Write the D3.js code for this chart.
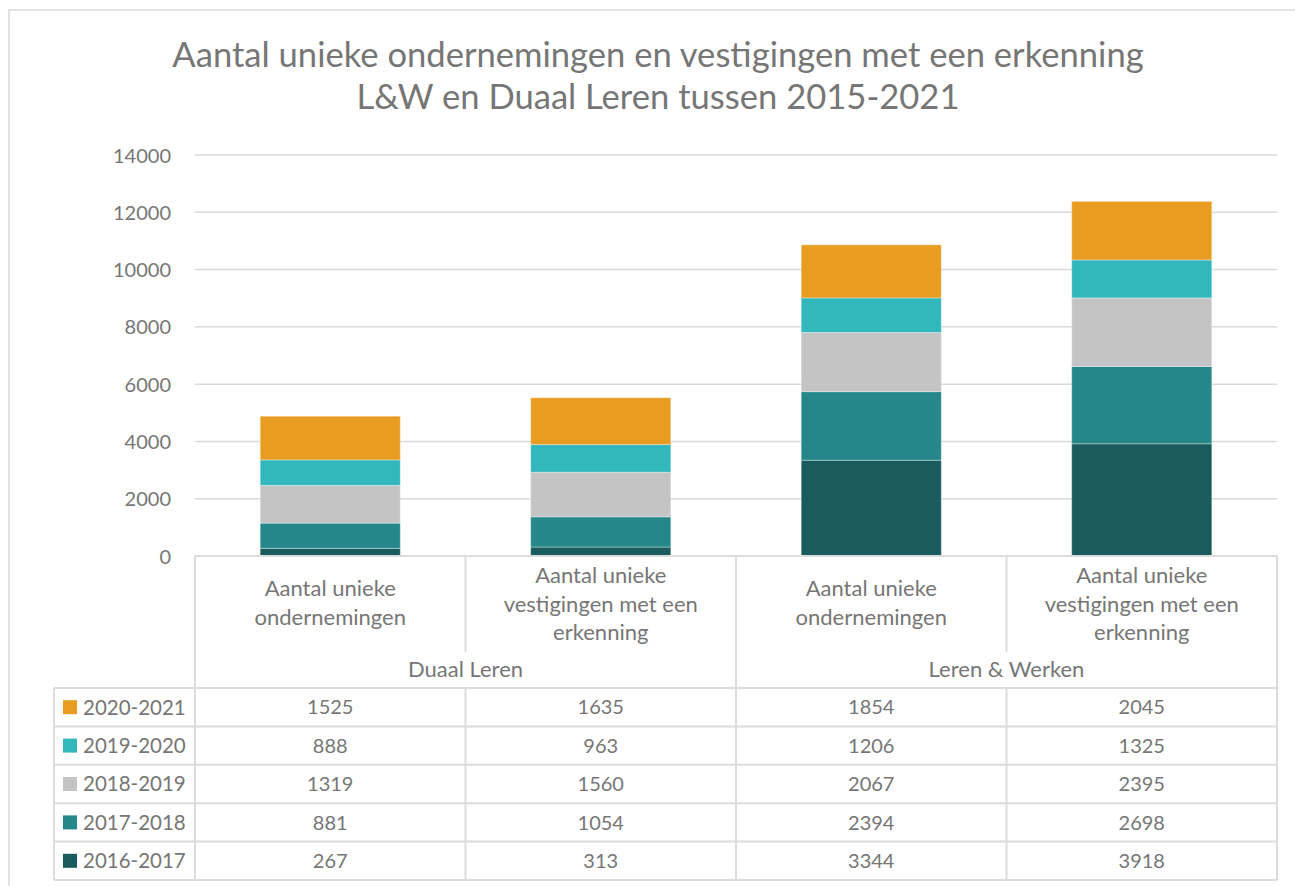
<!DOCTYPE html>
<html>
<head>
<meta charset="utf-8">
<title>Aantal unieke ondernemingen en vestigingen</title>
<script src="https://cdnjs.cloudflare.com/ajax/libs/d3/7.8.5/d3.min.js"></script>
<style>
body { margin: 0; background: #fff; }
svg { display: block; font-family: Lato, "Open Sans", sans-serif; }
text { fill: #767676; }
.grid line { stroke: #d9d9d9; stroke-width: 1.5px; }
.tbl { stroke: #dcdcdc; stroke-width: 2px; fill: none; }
</style>
</head>
<body>
<div id="chart"></div>
<script>
// data
var titleLines = ["Aantal unieke ondernemingen en vestigingen met een erkenning",
                  "L&W en Duaal Leren tussen 2015-2021"];
var categories = [
  ["Aantal unieke", "ondernemingen"],
  ["Aantal unieke", "vestigingen met een", "erkenning"],
  ["Aantal unieke", "ondernemingen"],
  ["Aantal unieke", "vestigingen met een", "erkenning"]
];
var groups = ["Duaal Leren", "Leren & Werken"];
var series = ["2016-2017", "2017-2018", "2018-2019", "2019-2020", "2020-2021"];
var v2016 = [267, 313, 3344, 3918];
var v2017 = [881, 1054, 2394, 2698];
var v2018 = [1319, 1560, 2067, 2395];
var v2019 = [888, 963, 1206, 1325];
var v2020 = [1525, 1635, 1854, 2045];
var colors = ["#1a5c5e", "#26878a", "#c4c4c4", "#32b7bc", "#e89c22"];
var yTicks = [0, 2000, 4000, 6000, 8000, 10000, 12000, 14000];

var values = [v2016, v2017, v2018, v2019, v2020];
var rows = categories.map(function(c, i) {
  var r = { i: i };
  series.forEach(function(s, k) { r[s] = values[k][i]; });
  return r;
});

var W = 1295, H = 886;
var svg = d3.select("#chart").append("svg").attr("width", W).attr("height", H);

// outer frame
svg.append("rect").attr("x", 9).attr("y", 10).attr("width", 1300).attr("height", 900)
  .attr("fill", "none").attr("stroke", "#d9d9d9").attr("stroke-width", 1.5);

// title
svg.append("g").selectAll("text").data(titleLines).enter().append("text")
  .attr("x", 658).attr("y", function(d, i) { return 67 + i * 42; })
  .attr("text-anchor", "middle").style("font-size", "34.6px").text(function(d) { return d; });

var x = d3.scaleBand().domain(d3.range(categories.length)).range([195, 1277]);
var y = d3.scaleLinear().domain([0, 14000]).range([556, 155]);
var barW = x.bandwidth() * 0.518;

// gridlines
svg.append("g").attr("class", "grid").selectAll("line").data(yTicks.slice(1)).enter().append("line")
  .attr("x1", 195).attr("x2", 1277).attr("y1", y).attr("y2", y);

// y axis labels
var yAxis = d3.axisLeft(y).tickValues(yTicks).tickSize(0).tickPadding(0).tickFormat(d3.format("d"));
var ya = svg.append("g").attr("transform", "translate(171,0)").call(yAxis);
ya.select(".domain").remove();
ya.selectAll("text").style("font-size", "20px").attr("fill", "#767676").attr("dy", "0.35em")
  .style("font-family", "Lato, 'Open Sans', sans-serif");

// stacked bars
var stack = d3.stack().keys(series)(rows);
svg.append("g").selectAll("g").data(stack).enter().append("g")
  .attr("fill", function(d, k) { return colors[k]; })
  .selectAll("rect").data(function(d) { return d; }).enter().append("rect")
  .attr("x", function(d) { return x(d.data.i) + (x.bandwidth() - barW) / 2; })
  .attr("width", barW)
  .attr("y", function(d) { return y(d[1]); })
  .attr("height", function(d) { return y(d[0]) - y(d[1]); })
  .attr("stroke", "#ffffff").attr("stroke-opacity", 0.35).attr("stroke-width", 1);

// data table
var rowTop = 688, rowH = 38.4;
var tbl = svg.append("g");
var edges = x.domain().map(function(i) { return x(i); }).concat([x.range()[1]]);
tbl.append("line").attr("class", "tbl").attr("x1", 195).attr("x2", 1277).attr("y1", 556).attr("y2", 556);
edges.forEach(function(ex, j) {
  var full = (j === 0 || j === 2 || j === edges.length - 1);
  if (full) {
    tbl.append("line").attr("class", "tbl").attr("x1", ex).attr("x2", ex).attr("y1", 556).attr("y2", rowTop + rowH * 5);
  } else {
    tbl.append("line").attr("class", "tbl").attr("x1", ex).attr("x2", ex).attr("y1", 556).attr("y2", 652);
    tbl.append("line").attr("class", "tbl").attr("x1", ex).attr("x2", ex).attr("y1", rowTop).attr("y2", rowTop + rowH * 5);
  }
});
d3.range(6).forEach(function(r) {
  tbl.append("line").attr("class", "tbl").attr("x1", 54).attr("x2", 1277)
    .attr("y1", rowTop + r * rowH).attr("y2", rowTop + r * rowH);
});
tbl.append("line").attr("class", "tbl").attr("x1", 54).attr("x2", 54).attr("y1", rowTop).attr("y2", rowTop + rowH * 5);

// category labels
categories.forEach(function(lines, i) {
  var cx = x(i) + x.bandwidth() / 2;
  var top = lines.length === 2 ? 596 : 583;
  svg.append("g").selectAll("text").data(lines).enter().append("text")
    .attr("x", cx).attr("y", function(d, k) { return top + k * 28.5; })
    .attr("text-anchor", "middle").style("font-size", "22px").text(function(d) { return d; });
});

// group labels
groups.forEach(function(g, j) {
  svg.append("text").attr("x", (x(j * 2) + x(j * 2 + 1) + x.bandwidth()) / 2).attr("y", 677)
    .attr("text-anchor", "middle").style("font-size", "22px").text(g);
});

// table rows: newest season on top
var order = d3.range(series.length).reverse();
order.forEach(function(k, r) {
  var cy = rowTop + r * rowH + rowH / 2;
  tbl.append("rect").attr("x", 63).attr("y", cy - 7).attr("width", 14).attr("height", 14).attr("fill", colors[k]);
  svg.append("text").attr("x", 83).attr("y", cy).attr("dy", "0.36em").style("font-size", "20.5px").text(series[k]);
  values[k].forEach(function(v, i) {
    svg.append("text").attr("x", x(i) + x.bandwidth() / 2).attr("y", cy).attr("dy", "0.36em")
      .attr("text-anchor", "middle").style("font-size", "20px").text(v);
  });
});
</script>
</body>
</html>
